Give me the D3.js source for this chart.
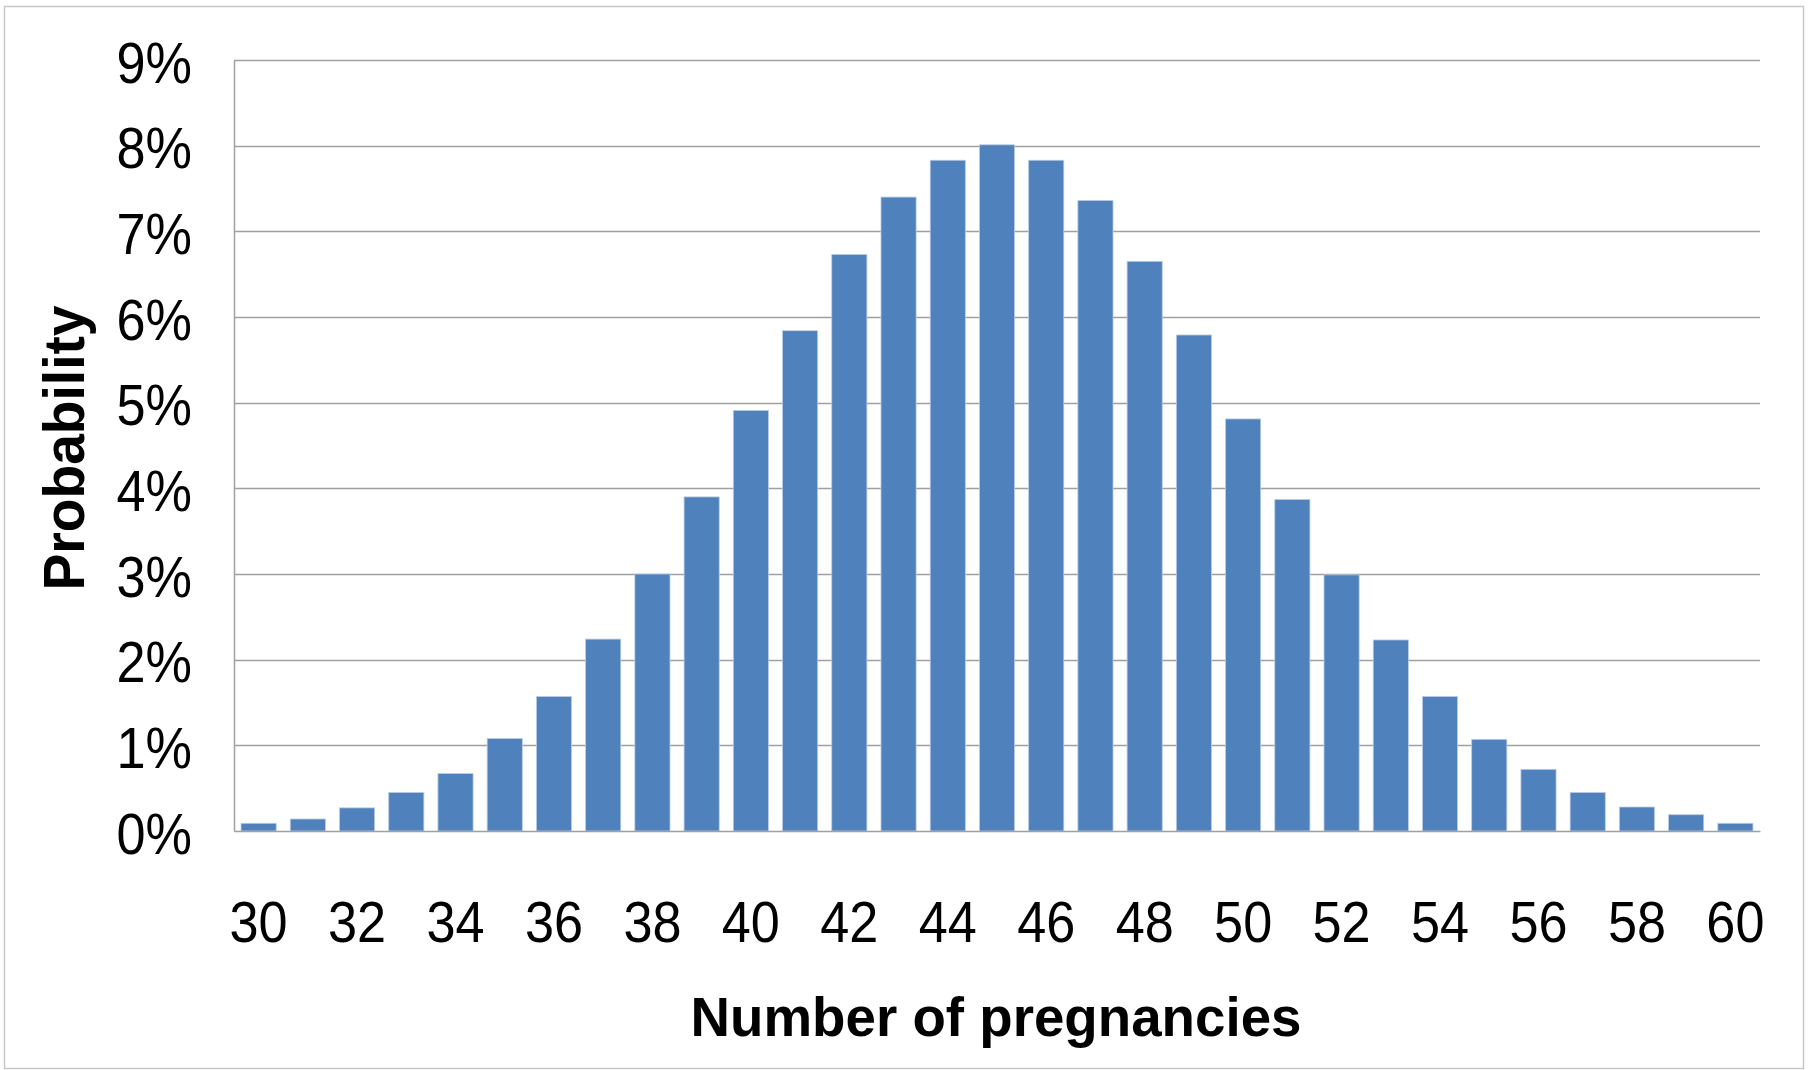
<!DOCTYPE html>
<html>
<head>
<meta charset="utf-8">
<script src="https://cdn.jsdelivr.net/npm/d3@7"></script>
<style>
  body { margin: 0; background: #fff; }
  svg text { font-family: "Liberation Sans", Arial, sans-serif; fill: #000; }
</style>
</head>
<body>
<div id="chart"></div>
<script>
// number of pregnancies (x categories)
const pregnancies = d3.range(30, 61);
// probability, in percent
const probability = [
  0.09, 0.14, 0.27, 0.45, 0.67, 1.08, 1.57, 2.24, 3.00, 3.90,
  4.91, 5.84, 6.73, 7.40, 7.83, 8.01, 7.83, 7.36, 6.65, 5.79,
  4.81, 3.87, 2.99, 2.23, 1.57, 1.07, 0.72, 0.45, 0.28, 0.19, 0.09
];
const yTicks = [0, 1, 2, 3, 4, 5, 6, 7, 8, 9];
const xTickLabels = d3.range(30, 61, 2);

const width = 1810;
const height = 1070;
const margin = {top: 60, right: 50, bottom: 239, left: 234};

const data = pregnancies.map((n, i) => ({n: n, p: probability[i]}));

const svg = d3.select("#chart")
  .append("svg")
  .attr("width", width)
  .attr("height", height);

// chart border
svg.append("rect")
  .attr("x", 4.5)
  .attr("y", 6.5)
  .attr("width", 1799)
  .attr("height", 1062)
  .attr("fill", "none")
  .attr("stroke", "#c8c8c8")
  .attr("stroke-width", 1.5);

const x = d3.scaleBand()
  .domain(pregnancies)
  .range([margin.left, width - margin.right])
  .paddingInner(0.286)
  .paddingOuter(0.143);

const y = d3.scaleLinear()
  .domain([0, 9])
  .range([height - margin.bottom, margin.top]);

// gridlines
svg.append("g")
  .selectAll("line")
  .data(yTicks.filter(d => d > 0))
  .enter()
  .append("line")
  .attr("x1", margin.left)
  .attr("x2", width - margin.right)
  .attr("y1", d => Math.round(y(d)) + 0.5)
  .attr("y2", d => Math.round(y(d)) + 0.5)
  .attr("stroke", "#a0a0a0")
  .attr("stroke-width", 1.5);

// bars
svg.append("g")
  .selectAll("rect")
  .data(data)
  .enter()
  .append("rect")
  .attr("x", d => x(d.n))
  .attr("width", x.bandwidth())
  .attr("y", d => y(d.p))
  .attr("height", d => y(0) - y(d.p))
  .attr("fill", "#4f81bd")
  .attr("stroke", "#b9cde5")
  .attr("stroke-width", 0.8);

// tick labels are squeezed a little to look like the narrower original font
const squeeze = 0.9;

// y axis
const yPad = 42;
const yAxis = svg.append("g")
  .attr("transform", `translate(${margin.left},0)`)
  .call(d3.axisLeft(y).tickValues(yTicks).tickSize(0).tickPadding(yPad).tickFormat(d => d + "%"));
yAxis.select(".domain").attr("stroke", "#a0a0a0").attr("stroke-width", 1.5);
yAxis.selectAll("text")
  .attr("font-size", 58)
  .attr("font-family", null)
  .attr("x", -yPad / squeeze)
  .attr("dy", "0.38em")
  .attr("transform", `scale(${squeeze},1)`);

// x axis
const xAxis = svg.append("g")
  .attr("transform", `translate(0,${height - margin.bottom})`)
  .call(d3.axisBottom(x).tickValues(xTickLabels).tickSize(0).tickPadding(70));
xAxis.select(".domain").attr("stroke", "#a0a0a0").attr("stroke-width", 1.5);
xAxis.selectAll("text")
  .attr("font-size", 58)
  .attr("font-family", null)
  .attr("transform", `scale(${squeeze},1)`);

// axis titles
svg.append("text")
  .attr("x", 996)
  .attr("y", 1036)
  .attr("text-anchor", "middle")
  .attr("font-size", 56)
  .attr("font-weight", "bold")
  .attr("textLength", 611)
  .attr("lengthAdjust", "spacingAndGlyphs")
  .text("Number of pregnancies");

svg.append("text")
  .attr("transform", "translate(84,448) rotate(-90)")
  .attr("text-anchor", "middle")
  .attr("font-size", 58)
  .attr("font-weight", "bold")
  .attr("textLength", 285)
  .attr("lengthAdjust", "spacingAndGlyphs")
  .text("Probability");
</script>
</body>
</html>
